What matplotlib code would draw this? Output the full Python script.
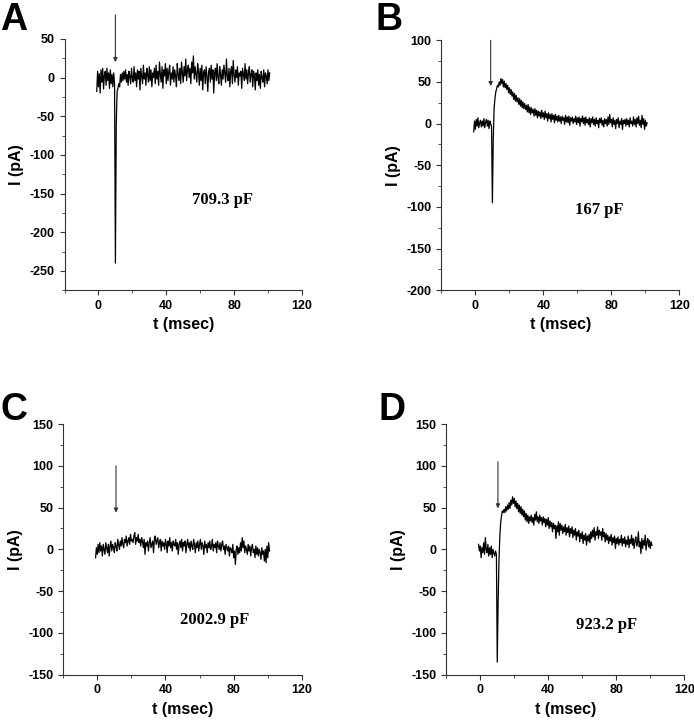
"""Current traces I(t) for four cells, panels A-D."""

import matplotlib
matplotlib.use('Agg')
import matplotlib.pyplot as plt
import numpy as np

# sampling grid of the recordings (msec)
T = np.arange(-1.0, 101.01, 0.5)

# panel A, 709.3 pF
I_A = [-18, 8, -12, 5, -20, 10, -6, 12, -15, 3,
       8, -10, 12, -4, 6, -14, 10, -8, 4, -12,
       6, -8, -240, -60, -18, -14, -8, -12, 4, -6,
       6, -4, 8, -2, 10, -6, 4, -10, 8, 2,
       -8, 12, 0, -6, 14, -4, 6, -12, 10, -2,
       8, -16, 12, 2, -8, 16, -2, 6, -10, 12,
       4, -6, 14, -4, 10, -12, 6, 0, 12, -8,
       16, -2, 8, -10, 20, 4, -6, 14, -14, 10,
       2, 18, -8, 12, -4, 8, 16, -10, 6, -2,
       14, -6, 10, 2, -12, 18, 4, -4, 12, -8,
       20, 6, -6, 14, 2, 24, -4, 10, 16, 0,
       12, -8, 20, 6, 28, -2, 14, 4, -6, 18,
       8, -10, 12, -4, 16, -16, 6, 10, -8, 14,
       2, -18, 8, 12, -6, 16, -2, 10, -20, 6,
       12, -4, 18, 0, -8, 14, 4, -10, 10, -2,
       16, 6, -6, 24, 2, -4, 12, -12, 8, 14,
       -8, 22, 4, -6, 10, 0, 14, -10, 6, 2,
       8, -14, 12, 4, -4, 18, -2, 10, -8, 6,
       14, -6, 4, 10, -12, 8, 2, -16, 6, -4,
       10, -10, 4, -14, 8, 0, -6, 10, -12, 6,
       2, -8, 10, -4, 6]

# panel B, 167 pF
I_B = [-10, 3, -7, 5, -3, 7, -5, 1, 4, -4,
       3, -3, 6, -5, 2, 5, -3, 4, -6, 3,
       0, -4, -95, -20, 18, 30, 38, 42, 46, 44,
       50, 46, 54, 48, 53, 44, 51, 43, 48, 41,
       46, 37, 43, 35, 41, 33, 38, 29, 36, 27,
       34, 26, 31, 23, 30, 21, 28, 19, 26, 18,
       24, 17, 22, 14, 23, 13, 20, 11, 19, 13,
       17, 9, 18, 10, 16, 7, 15, 9, 14, 6,
       16, 8, 13, 5, 15, 7, 12, 3, 13, 6,
       11, 2, 12, 5, 10, 1, 11, 4, 9, 2,
       10, 3, 8, 0, 9, 4, 7, -1, 10, 2,
       8, 1, 9, -2, 7, 3, 8, 0, 6, 2,
       9, -1, 7, 1, 8, -3, 6, 2, 9, 0,
       7, -2, 8, 1, 5, -1, 7, -4, 6, 1,
       8, -1, 5, -3, 7, 0, 4, -5, 6, 1,
       7, -2, 4, -4, 6, 0, 5, -3, 8, -1,
       11, 1, 5, -4, 7, -1, 4, -6, 5, 0,
       7, -5, 3, -1, 6, -7, 4, 0, 5, -3,
       6, -1, 4, -4, 7, 0, 3, -3, 8, -1,
       5, -4, 7, 0, 9, -2, 4, -5, 10, -1,
       6, -7, 4, -3, 1]

# panel C, 2002.9 pF
I_C = [-10, 2, -6, 6, -4, 8, -2, 4, -8, 6,
       0, -6, 8, 2, -4, 6, -8, 4, 10, -2,
       6, 2, -4, 8, 4, -2, 12, 6, 0, 10,
       4, 14, 6, 2, 12, 8, 16, 4, 10, 14,
       6, 18, 10, 12, 8, 16, 20, 6, 14, 10,
       18, 8, 12, 4, 14, 10, 2, 12, -6, 8,
       4, 10, -2, 8, 14, 2, 6, 10, -4, 12,
       16, 6, 10, 14, 2, 8, 12, -2, 10, 4,
       8, 0, 12, 6, -4, 10, 4, 14, 2, 8,
       -2, 10, 6, 4, 12, 0, 8, -6, 6, 10,
       2, 12, -2, 8, 4, 10, -4, 6, 12, 2,
       8, -2, 10, 4, 0, 12, 6, -4, 8, 2,
       10, -2, 6, 12, 0, 8, 4, -6, 10, 2,
       6, -4, 8, 2, 10, 0, 4, 12, -2, 6,
       2, 8, -4, 10, 4, 0, 8, -2, 6, 10,
       0, 4, -6, 6, 2, -2, 4, -8, 2, 0,
       -4, 6, -10, -2, -18, 0, 4, -6, 2, -4,
       8, -2, 14, 2, 10, -4, 4, 0, -6, 6,
       -2, 4, -8, 2, 6, -4, 0, -10, 4, -6,
       2, -8, 0, -4, -12, 2, -6, -2, -14, 0,
       -16, 4, -10, 8, -2]

# panel D, 923.2 pF
I_D = [6, -2, 4, -10, 2, -4, 8, -6, 14, 0,
       -4, 6, -8, 2, -6, 4, -10, 0, -4, -8,
       -2, -6, -135, -65, -15, 15, 32, 40, 46, 44,
       48, 44, 51, 46, 53, 48, 56, 49, 59, 53,
       63, 55, 61, 51, 58, 49, 55, 45, 53, 43,
       51, 41, 48, 39, 46, 35, 43, 33, 41, 31,
       39, 34, 41, 32, 38, 29, 42, 35, 45, 33,
       39, 31, 41, 34, 38, 29, 39, 32, 37, 27,
       36, 29, 38, 25, 34, 27, 32, 21, 31, 25,
       29, 13, 28, 21, 33, 17, 31, 23, 29, 19,
       27, 21, 30, 17, 26, 20, 28, 15, 25, 19,
       27, 14, 23, 17, 25, 11, 21, 16, 23, 9,
       19, 13, 21, 7, 17, 11, 19, 5, 16, 10,
       18, 8, 21, 13, 23, 15, 26, 11, 21, 17,
       27, 13, 23, 17, 21, 11, 25, 15, 20, 9,
       19, 11, 17, 7, 15, 10, 18, 5, 14, 8,
       16, 1, 13, 7, 15, 5, 12, 8, 17, 4,
       13, 7, 15, 3, 11, 6, 16, 2, 12, 7,
       17, 5, 13, 1, 11, 15, 4, 8, 21, 3,
       9, -5, 13, 1, 11, 5, 17, -1, 9, 13,
       3, 11, 1, 9, 5]

LETTERS = ['A', 'B', 'C', 'D']
CAPS = ['709.3 pF', '167 pF', '2002.9 pF', '923.2 pF']
YLIMS = [(-275, 50), (-200, 100), (-150, 150), (-150, 150)]
ARROW_X = [10, 9, 11, 10.4]
ARROW_Y = [(81, 20), (100, 45), (100, 44), (105, 49)]
CAP_XY = [(73, -158), (73, -104), (69, -84), (74, -91)]

plt.rcParams['font.family'] = ['Liberation Sans', 'DejaVu Sans']
plt.rcParams['axes.unicode_minus'] = False

fig = plt.figure(figsize=(6.94, 7.2), dpi=100)
boxes = [[0.093, 0.597, 0.342, 0.349],
         [0.636, 0.597, 0.343, 0.347],
         [0.091, 0.063, 0.344, 0.348],
         [0.643, 0.063, 0.343, 0.348]]
letter_pos = [(0.0, 0.997), (0.541, 0.997), (0.0, 0.455), (0.545, 0.455)]

for k, I in enumerate([I_A, I_B, I_C, I_D]):
    ax = fig.add_axes(boxes[k])
    ax.plot(T, I, color='black', lw=0.9)
    ax.set_xlim(-20, 120)
    ax.set_ylim(*YLIMS[k])
    ax.set_xticks([0, 40, 80, 120])
    ax.set_xticks([-20, 20, 60, 100], minor=True)
    ax.yaxis.set_major_locator(matplotlib.ticker.MultipleLocator(50))
    ax.yaxis.set_minor_locator(matplotlib.ticker.MultipleLocator(25))
    ax.spines['top'].set_visible(False)
    ax.spines['right'].set_visible(False)
    for s in ['left', 'bottom']:
        ax.spines[s].set_linewidth(0.8)
        ax.spines[s].set_color('#333333')
    ax.tick_params(which='major', length=3.5, width=0.8, labelsize=9,
                   colors='#333333', labelcolor='black')
    ax.tick_params(which='minor', length=2, width=0.6, colors='#333333')
    for lab in ax.get_xticklabels() + ax.get_yticklabels():
        lab.set_fontweight('bold')
    ax.set_xlabel('t (msec)', fontsize=11.5, fontweight='bold')
    ax.set_ylabel('I (pA)', fontsize=11.5, fontweight='bold')
    ax.annotate('', xy=(ARROW_X[k], ARROW_Y[k][1]),
                xytext=(ARROW_X[k], ARROW_Y[k][0]),
                arrowprops=dict(arrowstyle='-|>', lw=0.8, color='#333333',
                                mutation_scale=6, shrinkA=0, shrinkB=0),
                annotation_clip=False)
    ax.text(CAP_XY[k][0], CAP_XY[k][1], CAPS[k], ha='center', va='center',
            fontsize=12, fontweight='bold', family='Liberation Serif')
    fig.text(letter_pos[k][0], letter_pos[k][1], LETTERS[k], ha='left',
             va='top', fontsize=27, fontweight='bold')

fig.savefig('out.png', dpi=100)
